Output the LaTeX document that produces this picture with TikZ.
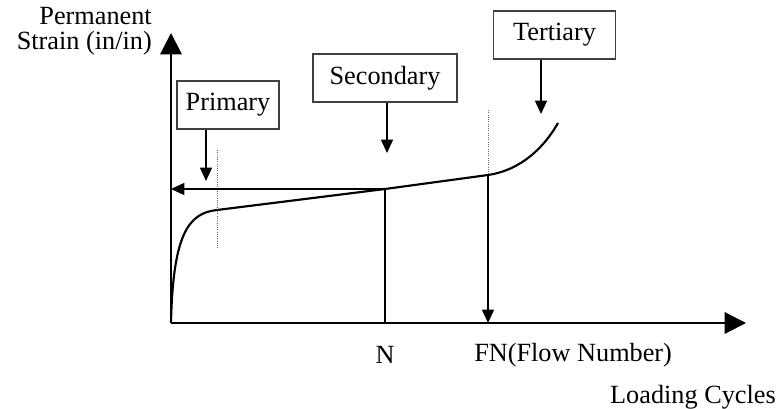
\documentclass[tikz,border=0pt]{standalone}
\usepackage{fontspec}
\setmainfont{Liberation Serif}
\usetikzlibrary{arrows.meta}
\begin{document}
\begin{tikzpicture}[x=0.75pt,y=-0.75pt,
  every node/.style={font=\fontsize{19.7}{18.75}\selectfont, inner sep=0pt},
  stagebox/.style={draw=black!75, line width=0.8pt, inner xsep=0pt, inner ysep=0pt, minimum height=36pt},
  axis/.style={line width=1.6pt, -{Triangle[length=16pt,width=16pt]}},
  smallarrow/.style={line width=1.1pt, -{Triangle[length=10pt,width=9pt]}},
  plain/.style={line width=1.1pt},
  curveline/.style={line width=1.6pt},
  dotline/.style={line width=0.7pt, densely dotted, black!60}]
\useasboundingbox (0,0) rectangle (780,409);
% key points
\coordinate (O) at (171,323);
\coordinate (yend) at (171,33);
\coordinate (xend) at (746,323);
\coordinate (K) at (217,210);
\coordinate (Npt) at (385,189);
\coordinate (FNpt) at (488,175);
\coordinate (T) at (558,123);
\coordinate (Nbase) at (385,323);
\coordinate (FNbase) at (488,323);
\coordinate (Yhit) at (171,189);
\coordinate (d1top) at (217,150);
\coordinate (d1bot) at (217,249);
\coordinate (d2top) at (488,110);
% axes
\draw[axis] (O) -- (yend);
\draw[axis] (O) -- (xend);
% curve
\draw[curveline] (O) .. controls (173,235) and (188,213) .. (K) -- (Npt) -- (FNpt) .. controls (522,170) and (545,146) .. (T);
% guide lines
\draw[dotline] (d1top) -- (d1bot);
\draw[dotline] (d2top) -- (FNpt);
\draw[smallarrow] (Npt) -- (Yhit);
\draw[plain] (Npt) -- (Nbase);
\draw[smallarrow] (FNpt) -- (FNbase);
% boxes
\node[stagebox, minimum width=76.5pt] (prim) at (228,105) {Primary};
\node[stagebox, minimum width=108pt] (sec) at (385,78) {Secondary};
\node[stagebox, minimum width=92pt] (ter) at (554.5,35) {Tertiary};
\coordinate (pa) at (206,181);
\coordinate (sa) at (387,153);
\coordinate (ta) at (541,114);
\draw[smallarrow] (prim.south -| pa) -- (pa);
\draw[smallarrow] (sec.south -| sa) -- (sa);
\draw[smallarrow] (ter.south -| ta) -- (ta);
% labels
\node[anchor=east, align=right] (lyaxis) at (152,31) {Permanent\\Strain (in/in)};
\node (lN) at (385,355) {N};
\node[anchor=west] (lFN) at (474,355) {FN(Flow Number)};
\node[anchor=east] (lload) at (776,397) {Loading Cycles};
\end{tikzpicture}
\end{document}
